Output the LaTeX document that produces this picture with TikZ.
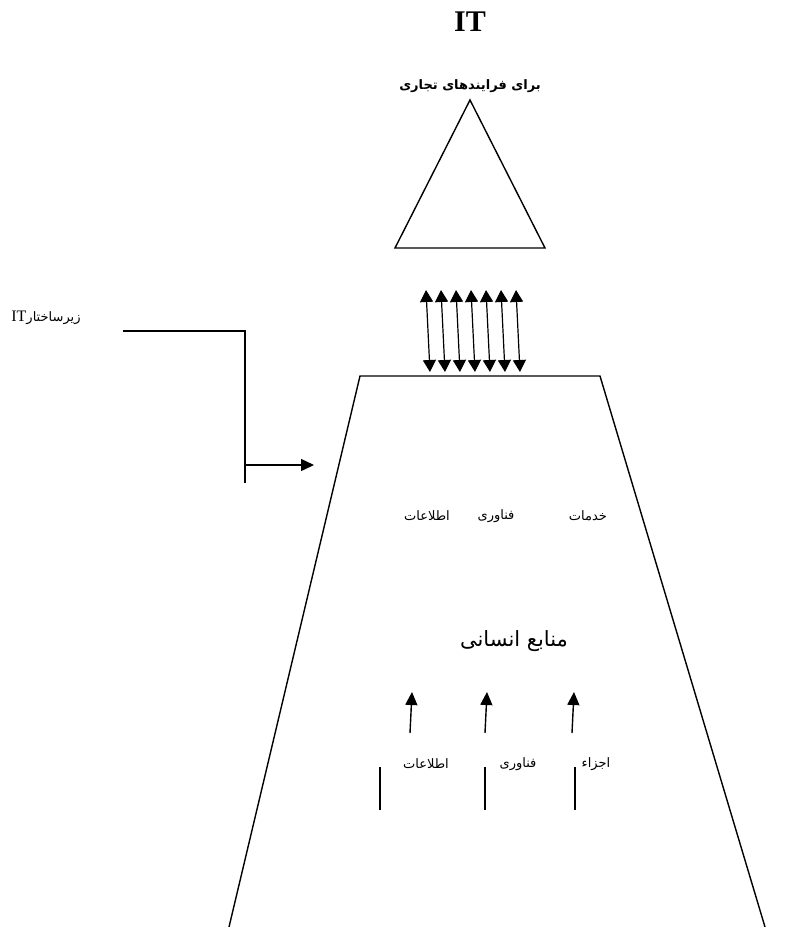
\documentclass[tikz,border=0pt]{standalone}
\usepackage{fontspec}
\setmainfont{Liberation Serif}
\newfontfamily\arabicfont[Script=Arabic]{DejaVu Sans}
\TeXXeTstate=1
\usetikzlibrary{arrows.meta}

\begin{document}
\begin{tikzpicture}[
        x=1pt, y=-1pt,
        line/.style={line width=1.4pt},
        arrow/.style={line width=1.4pt, -{Triangle[length=13pt, width=12pt]}},
        twoway/.style={line width=1.2pt, {Triangle[length=12pt, width=13pt]}-{Triangle[length=12pt, width=13pt]}},
        label/.style={font=\arabicfont\fontsize{13}{15}\selectfont, inner sep=0pt}
    ]
        \useasboundingbox (0,0) rectangle (792,927);

        % Title
        \node[font=\bfseries\fontsize{30}{32}\selectfont, inner sep=0pt] (title) at (470,22) {IT};
        \node[font=\arabicfont\bfseries\fontsize{13}{15}\selectfont, inner sep=0pt] (process) at (470,86) {\beginR برای فرایندهای تجاری\endR};

        % Triangle on top
        \coordinate (apex) at (470,100);
        \coordinate (baseR) at (545,248);
        \coordinate (baseL) at (395,248);
        \draw[line] (apex) -- (baseR) -- (baseL) -- cycle;

        % Two-way arrows between triangle and body
        \foreach \i in {0,...,6} {
            \coordinate (up\i) at (426+15*\i,290);
            \coordinate (dn\i) at (430+15*\i,372);
            \draw[twoway] (up\i) -- (dn\i);
        }

        % Trapezoid body
        \coordinate (topL) at (360,376);
        \coordinate (topR) at (600,376);
        \coordinate (botL) at (229,927);
        \coordinate (botR) at (765,927);
        \draw[line] (botL) -- (topL) -- (topR) -- (botR);

        % Infrastructure label with bent connector
        \node[label] (infra) at (46,318) {\beginR زیرساختار{\rmfamily\fontsize{16}{18}\selectfont\beginL IT\endL}\endR};
        \coordinate (lineA) at (123,331);
        \coordinate (lineB) at (245,331);
        \coordinate (lineC) at (245,483);
        \coordinate (lineD) at (245,465);
        \coordinate (lineE) at (314,465);
        \draw[line] (lineA) -- (lineB) -- (lineC);
        \draw[arrow] (lineD) -- (lineE);

        % Services row
        \node[label] (services) at (588,516) {\beginR خدمات\endR};
        \node[label] (tech) at (496,516) {\beginR فناوری\endR};
        \node[label] (info) at (427,516) {\beginR اطلاعات\endR};

        % Human resources
        \node[font=\arabicfont\fontsize{21}{23}\selectfont, inner sep=0pt] (human) at (514,641) {\beginR منابع انسانی\endR};

        % Upward arrows
        \coordinate (arrA) at (410,733);
        \coordinate (tipA) at (412,692);
        \coordinate (arrB) at (485,733);
        \coordinate (tipB) at (487,692);
        \coordinate (arrC) at (572,733);
        \coordinate (tipC) at (574,692);
        \draw[arrow] (arrA) -- (tipA);
        \draw[arrow] (arrB) -- (tipB);
        \draw[arrow] (arrC) -- (tipC);

        % Components row
        \node[label] (infoB) at (426,764) {\beginR اطلاعات\endR};
        \node[label] (techB) at (518,764) {\beginR فناوری\endR};
        \node[label] (parts) at (596,764) {\beginR اجزاء\endR};
        \coordinate (barA) at (380,767);
        \coordinate (barAe) at (380,810);
        \coordinate (barB) at (485,767);
        \coordinate (barBe) at (485,810);
        \coordinate (barC) at (575,767);
        \coordinate (barCe) at (575,810);
        \draw[line] (barA) -- (barAe);
        \draw[line] (barB) -- (barBe);
        \draw[line] (barC) -- (barCe);

    \end{tikzpicture}
\end{document}
